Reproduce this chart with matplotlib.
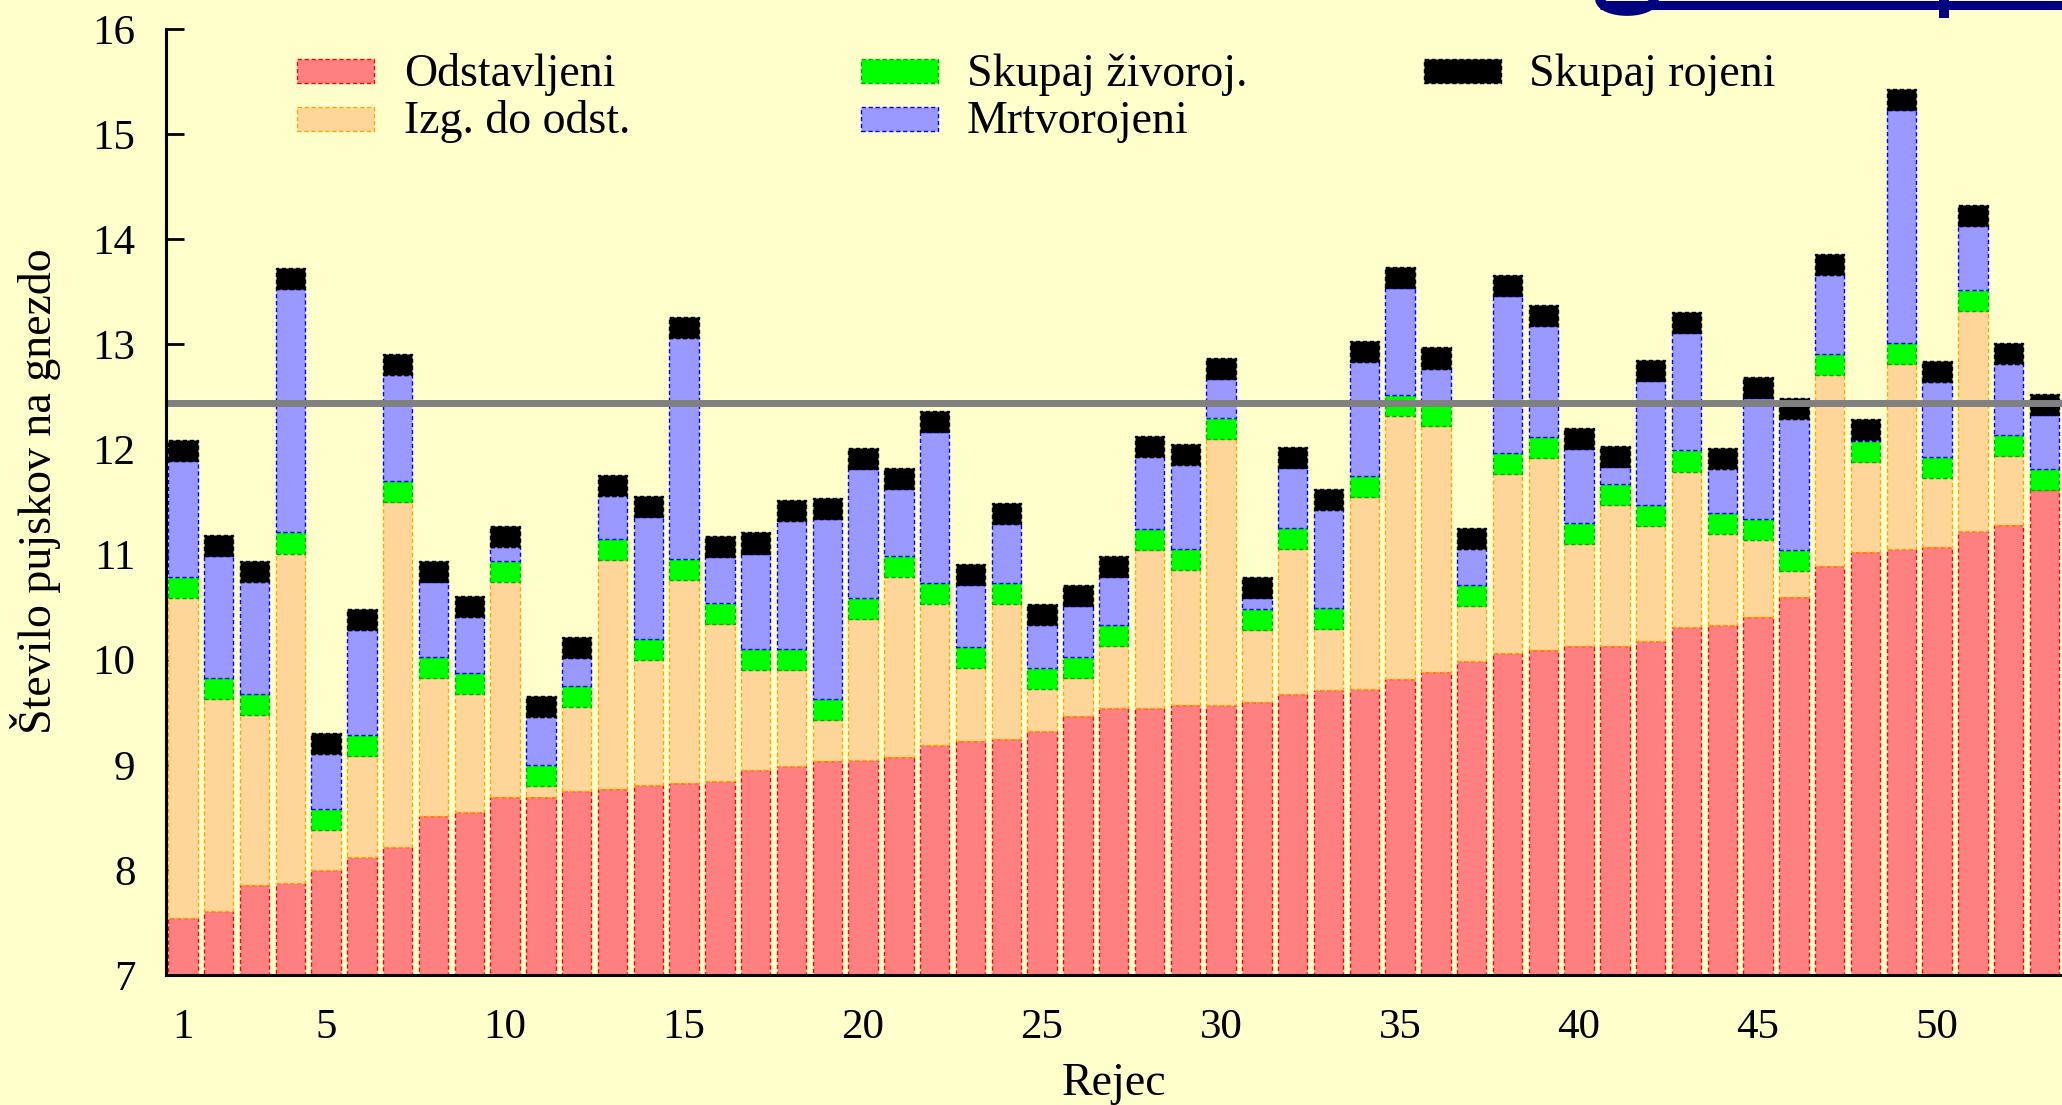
import matplotlib
matplotlib.use("Agg")
import matplotlib.pyplot as plt
from matplotlib.patches import Rectangle
from matplotlib.lines import Line2D
import numpy as np

plt.rcParams['font.family'] = ['Liberation Serif', 'DejaVu Serif']

# ---------------- data ----------------
rejec = list(range(1, 54))
odstavljeni = [7.54, 7.61, 7.86, 7.88, 8.00, 8.12, 8.22, 8.51, 8.55, 8.69,
               8.69, 8.75, 8.77, 8.81, 8.83, 8.85, 8.95, 8.99, 9.04, 9.05,
               9.07, 9.19, 9.23, 9.25, 9.32, 9.46, 9.54, 9.54, 9.57, 9.57,
               9.60, 9.67, 9.71, 9.72, 9.82, 9.88, 9.99, 10.06, 10.09, 10.13,
               10.13, 10.18, 10.31, 10.33, 10.41, 10.60, 10.89, 11.02, 11.05, 11.07,
               11.22, 11.28, 11.61]
zivorojeni = [10.59, 9.63, 9.47, 11.01, 8.38, 9.08, 11.50, 9.83, 9.67, 10.74,
              8.80, 9.55, 10.95, 10.00, 10.76, 10.34, 9.90, 9.90, 9.43, 10.39,
              10.79, 10.53, 9.92, 10.53, 9.72, 9.83, 10.13, 11.04, 10.85, 12.10,
              10.28, 11.05, 10.29, 11.55, 12.32, 12.22, 10.51, 11.77, 11.92, 11.10,
              11.47, 11.27, 11.79, 11.20, 11.14, 10.84, 12.71, 11.88, 12.81, 11.73,
              13.32, 11.94, 11.61]
rojeni = [11.89, 10.99, 10.74, 13.53, 9.10, 10.28, 12.71, 10.74, 10.41, 11.07,
          9.45, 10.02, 11.56, 11.36, 13.06, 10.98, 11.01, 11.32, 11.34, 11.81,
          11.62, 12.17, 10.71, 11.29, 10.33, 10.51, 10.79, 11.93, 11.85, 12.67,
          10.59, 11.82, 11.42, 12.83, 13.54, 12.77, 11.05, 13.46, 13.17, 12.00,
          11.83, 12.65, 13.11, 11.81, 12.49, 12.29, 13.66, 12.09, 15.23, 12.64,
          14.13, 12.81, 12.33]
povprecje = 12.44
MARK = 0.2  # height of the marker blocks for totals

labels = ['Odstavljeni', 'Izg. do odst.', 'Skupaj živoroj.', 'Mrtvorojeni', 'Skupaj rojeni']
xticks = [1, 5, 10, 15, 20, 25, 30, 35, 40, 45, 50]
yticks = list(range(7, 17))

# ---------------- style ----------------
BG = '#FFFFCC'
FILL = ['#FF8080', '#FFD699', '#00FF00', '#9999FF', '#000000']
EDGE = ['#FF0000', '#FFA500', '#00B000', '#0000FF', '#000000']
NAVY = '#000080'

W, H = 2062, 1105
fig = plt.figure(figsize=(W / 100, H / 100), dpi=100, facecolor=BG)
ax = fig.add_axes([166 / W, 1 - 975 / H, 1 - 166 / W, (975 - 29) / H])
ax.set_facecolor(BG)

x = np.array(rejec)
o = np.array(odstavljeni)
z = np.array(zivorojeni)
r = np.array(rojeni)

bw = 0.82
ls = (0, (3, 2))
segments = [
    (o, np.zeros_like(o)),
    (z - o, o),
    (np.full_like(z, MARK), z),
    (r - (z + MARK), z + MARK),
    (np.full_like(r, MARK), r),
]
for (h, b), fc, ec in zip(segments, FILL, EDGE):
    ax.bar(x, h, bottom=b, width=bw, color=fc, edgecolor=ec,
           linewidth=1.0, linestyle=ls, zorder=2)

ax.axhline(povprecje, color='#808080', lw=5, zorder=5)

ax.set_xlim(0.53, 53.49)
ax.set_ylim(7, 16)
ax.set_xticks(xticks)
ax.set_yticks(yticks)
ax.tick_params(axis='x', length=0, pad=24, labelsize=31)
ax.tick_params(axis='y', direction='in', length=13, width=2, pad=22, labelsize=31)
for s in ['top', 'right']:
    ax.spines[s].set_visible(False)
for s in ['left', 'bottom']:
    ax.spines[s].set_linewidth(2.2)
    ax.spines[s].set_zorder(6)

ax.set_xlabel('Rejec', fontsize=33)
ax.xaxis.set_label_coords(0.5, (975 - 1095) / 946)
ax.xaxis.label.set_va('baseline')
ax.set_ylabel('Število pujskov na gnezdo', fontsize=33, rotation=90,
              rotation_mode='default', va='center', ha='center')
ax.yaxis.set_label_coords((36 - 166) / 1896, (975 - 491) / 946)

# ---------------- legend (gnuplot-style, fixed columns) ----------------
patch_x = [297, 861, 1424]
text_x = [404, 967, 1529]
row_c = [71, 119]
row_base = [86, 133]
for i, lab in enumerate(labels):
    c, rw = i // 2, i % 2
    fig.patches.append(Rectangle((patch_x[c] / W, 1 - (row_c[rw] + 12) / H),
                                 77 / W, 24 / H, transform=fig.transFigure,
                                 facecolor=FILL[i], edgecolor=EDGE[i],
                                 linewidth=1.0, linestyle=ls))
    fig.text(text_x[c] / W, 1 - row_base[rw] / H, lab, fontsize=33,
             ha='left', va='baseline')

# ---------------- cut-off navy heading decoration at top right ----------------
fig.add_artist(Line2D([1600 / W, 1.0], [1 - 4.5 / H, 1 - 4.5 / H],
                      transform=fig.transFigure, color=NAVY, lw=6.5,
                      solid_capstyle='butt'))
t = np.linspace(np.pi, 2 * np.pi, 40)
hook_x = 1627 + 27 * np.cos(t)
hook_y = -1 - 12 * np.sin(t)
fig.add_artist(Line2D(hook_x / W, 1 - hook_y / H, transform=fig.transFigure,
                      color=NAVY, lw=7, solid_capstyle='butt'))
fig.patches.append(Rectangle((1939 / W, 1 - 18 / H), 10 / W, 18 / H,
                             transform=fig.transFigure, facecolor=NAVY,
                             edgecolor='none'))

fig.savefig('out.png', dpi=100, facecolor=BG)
